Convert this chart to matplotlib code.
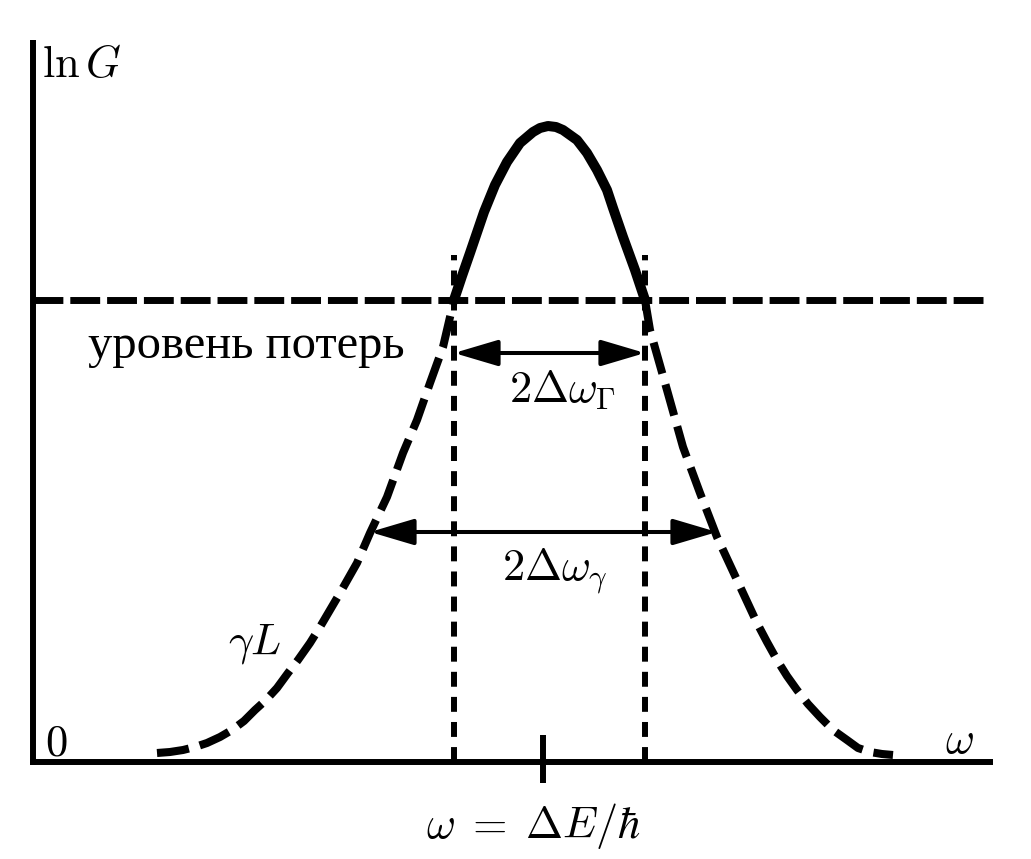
import matplotlib
matplotlib.use("Agg")
import matplotlib.pyplot as plt
import numpy as np

plt.rcParams["mathtext.fontset"] = "cm"

# gain curve gamma*L, omega vs ln G, arbitrary units
omega = [1.24, 1.37, 1.50, 1.62, 1.74, 1.87, 1.99, 2.11, 2.22, 2.33, 2.44, 2.55,
         2.65, 2.77, 2.87, 3.07, 3.24, 3.37, 3.54, 3.70, 3.84, 3.97, 4.10, 4.21,
         4.29, 4.37, 4.51, 4.62, 4.74, 4.87, 5.00, 5.07, 5.15, 5.23, 5.30, 5.44,
         5.54, 5.64, 5.74, 5.80, 5.90, 6.02, 6.12, 6.17, 6.34, 6.50, 6.67, 6.84,
         7.04, 7.24, 7.34, 7.44, 7.54, 7.64, 7.75, 7.87, 8.00, 8.14, 8.25, 8.37,
         8.49, 8.60]
gain = [0.09, 0.10, 0.12, 0.15, 0.19, 0.25, 0.32, 0.41, 0.52, 0.62, 0.74, 0.89,
        1.02, 1.19, 1.35, 1.69, 1.99, 2.29, 2.65, 3.09, 3.42, 3.79, 4.15, 4.62,
        4.86, 5.09, 5.50, 5.77, 6.00, 6.19, 6.30, 6.34, 6.36, 6.35, 6.32, 6.22,
        6.09, 5.92, 5.72, 5.54, 5.25, 4.92, 4.62, 4.32, 3.72, 3.15, 2.69, 2.25,
        1.82, 1.39, 1.20, 1.02, 0.86, 0.72, 0.58, 0.45, 0.32, 0.22, 0.14, 0.10,
        0.08, 0.07]

loss_level = 4.62
gen_edges = [4.21, 6.12]        # generation band (above losses)
gamma_edges = [3.37, 6.84]      # gain band width
gen_arrow_y = 4.09
gamma_arrow_y = 2.30
omega_0 = 5.10
vline_top = 5.07

omega = np.array(omega)
gain = np.array(gain)

fig = plt.figure(figsize=(10.31, 8.59), dpi=100)
ax = fig.add_axes([0, 0, 1, 1])
ax.set_xlim(-0.33, 9.98)
ax.set_ylim(-0.97, 7.62)
ax.axis("off")

# axes
ax.plot([0, 0], [-0.03, 7.22], color="k", lw=4.3, solid_capstyle="butt")
ax.plot([-0.03, 9.60], [0, 0], color="k", lw=4.3, solid_capstyle="butt")
ax.plot([omega_0, omega_0], [-0.21, 0.27], color="k", lw=4.3, solid_capstyle="butt")

# loss level
ax.plot([0, 9.55], [loss_level, loss_level], color="k", lw=5, dashes=(4.3, 1.0))

# curve: dashed below the loss level, solid above
below_l = (gain <= loss_level + 1e-9) & (omega < omega_0)
below_r = (gain <= loss_level + 1e-9) & (omega > omega_0)
above = gain >= loss_level - 1e-9
ax.plot(omega[below_l], gain[below_l], color="k", lw=5.8, dashes=(4.0, 1.4))
ax.plot(omega[below_r], gain[below_r], color="k", lw=5.8, dashes=(4.0, 1.4))
ax.plot(omega[above], gain[above], color="k", lw=7.2, solid_capstyle="butt",
        solid_joinstyle="round")

# vertical dotted boundaries
for x in gen_edges:
    ax.plot([x, x], [0, vline_top], color="k", lw=4.3, dashes=(2.5, 1.7))

# arrows
arrow_kw = dict(arrowstyle="<|-|>,head_length=1.35,head_width=0.4", color="k",
                lw=2.9, mutation_scale=20, shrinkA=0, shrinkB=0)
ax.annotate("", xy=(gen_edges[1], gen_arrow_y), xytext=(gen_edges[0], gen_arrow_y),
            arrowprops=arrow_kw)
ax.annotate("", xy=(gamma_edges[1], gamma_arrow_y), xytext=(gamma_edges[0], gamma_arrow_y),
            arrowprops=arrow_kw)

fs = 32
ax.text(0.09, 6.85, r"$\ln G$", fontsize=fs, va="baseline", ha="left")
ax.text(0.55, 4.04, "уровень потерь", fontsize=35, va="baseline", ha="left",
        family=["Liberation Serif", "DejaVu Serif"])
ax.text(5.30, 3.60, r"$2\Delta\omega_\Gamma$", fontsize=fs, va="baseline", ha="center")
ax.text(5.22, 1.82, r"$2\Delta\omega_\gamma$", fontsize=fs, va="baseline", ha="center")
ax.text(1.95, 1.07, r"$\gamma L$", fontsize=fs, va="baseline", ha="left")
ax.text(0.12, 0.07, r"$0$", fontsize=fs, va="baseline", ha="left")
ax.text(9.12, 0.09, r"$\omega$", fontsize=fs, va="baseline", ha="left")
ax.text(5.00, -0.76, r"$\omega\;=\;\Delta E/\hbar$", fontsize=fs, va="baseline", ha="center")

fig.savefig("out.png", dpi=100, facecolor="white")
